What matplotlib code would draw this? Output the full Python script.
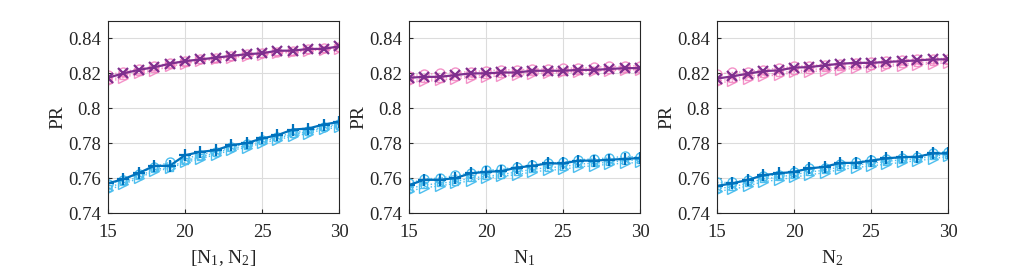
import matplotlib.pyplot as plt

plt.rcParams['font.family'] = ['Liberation Serif', 'DejaVu Serif']
plt.rcParams['mathtext.fontset'] = 'custom'
plt.rcParams['mathtext.rm'] = 'Liberation Serif'
plt.rcParams['mathtext.it'] = 'Liberation Serif:italic'

x = list(range(15, 31))

# panel 1: [N1, N2]
p1_purple = [0.8175, 0.820, 0.822, 0.8235, 0.8255, 0.827, 0.828, 0.829, 0.830, 0.831, 0.8315, 0.833, 0.833, 0.834, 0.834, 0.8355]
p1_pink_o = [0.819, 0.821, 0.8225, 0.824, 0.826, 0.827, 0.828, 0.829, 0.830, 0.831, 0.8315, 0.8325, 0.833, 0.834, 0.8345, 0.835]
p1_pink_t = [0.815, 0.8175, 0.820, 0.8215, 0.824, 0.8255, 0.827, 0.828, 0.829, 0.830, 0.8305, 0.8315, 0.832, 0.833, 0.8335, 0.834]
p1_pink_s = [0.816, 0.8185, 0.821, 0.8225, 0.825, 0.826, 0.8275, 0.8285, 0.8295, 0.8305, 0.831, 0.832, 0.8325, 0.8335, 0.834, 0.8345]
p1_blue = [0.757, 0.7594, 0.7629, 0.767, 0.767, 0.7731, 0.775, 0.776, 0.7789, 0.780, 0.7827, 0.7846, 0.7878, 0.7884, 0.7907, 0.7922]
p1_lblue_o = [0.7565, 0.759, 0.7625, 0.7665, 0.769, 0.771, 0.7735, 0.775, 0.778, 0.7795, 0.782, 0.7835, 0.786, 0.787, 0.7895, 0.791]
p1_lblue_t = [0.753, 0.7565, 0.760, 0.764, 0.7655, 0.769, 0.771, 0.7735, 0.776, 0.7775, 0.780, 0.782, 0.784, 0.7855, 0.788, 0.789]
p1_lblue_s = [0.7545, 0.7575, 0.761, 0.765, 0.766, 0.770, 0.772, 0.7745, 0.777, 0.7785, 0.781, 0.783, 0.785, 0.7865, 0.789, 0.790]

# panel 2: N1
p2_purple = [0.8175, 0.818, 0.818, 0.819, 0.820, 0.820, 0.8205, 0.8205, 0.8215, 0.8215, 0.8215, 0.822, 0.822, 0.8225, 0.823, 0.823]
p2_pink_o = [0.8185, 0.8195, 0.820, 0.8205, 0.821, 0.8215, 0.822, 0.822, 0.8225, 0.8225, 0.823, 0.823, 0.8235, 0.824, 0.824, 0.8245]
p2_pink_t = [0.815, 0.8155, 0.816, 0.817, 0.8175, 0.818, 0.8185, 0.819, 0.8195, 0.820, 0.8205, 0.821, 0.8215, 0.8215, 0.822, 0.822]
p2_pink_s = [0.816, 0.8165, 0.817, 0.818, 0.8185, 0.819, 0.8195, 0.820, 0.8205, 0.821, 0.821, 0.8215, 0.822, 0.822, 0.8225, 0.8225]
p2_blue = [0.756, 0.759, 0.759, 0.760, 0.7627, 0.7636, 0.764, 0.766, 0.767, 0.7684, 0.7684, 0.770, 0.770, 0.7705, 0.771, 0.7715]
p2_lblue_o = [0.757, 0.7595, 0.760, 0.7615, 0.763, 0.7645, 0.765, 0.7665, 0.7675, 0.7685, 0.769, 0.7705, 0.771, 0.7715, 0.7725, 0.772]
p2_lblue_t = [0.7525, 0.7545, 0.7555, 0.757, 0.7585, 0.760, 0.761, 0.762, 0.7635, 0.7645, 0.765, 0.7665, 0.767, 0.768, 0.7685, 0.769]
p2_lblue_s = [0.754, 0.756, 0.757, 0.758, 0.760, 0.761, 0.762, 0.7635, 0.765, 0.766, 0.7665, 0.768, 0.7685, 0.769, 0.770, 0.7705]

# panel 3: N2
p3_purple = [0.817, 0.8183, 0.8198, 0.8213, 0.8217, 0.8233, 0.8236, 0.8246, 0.8255, 0.826, 0.826, 0.8265, 0.827, 0.8274, 0.828, 0.828]
p3_pink_o = [0.8195, 0.8205, 0.821, 0.822, 0.823, 0.824, 0.8245, 0.825, 0.8255, 0.826, 0.8265, 0.827, 0.8275, 0.828, 0.8285, 0.8285]
p3_pink_t = [0.8145, 0.8155, 0.817, 0.8185, 0.819, 0.8205, 0.821, 0.8215, 0.822, 0.823, 0.8235, 0.824, 0.8245, 0.825, 0.8255, 0.826]
p3_pink_s = [0.8155, 0.817, 0.818, 0.8195, 0.820, 0.8215, 0.822, 0.823, 0.8235, 0.824, 0.8245, 0.825, 0.8255, 0.826, 0.8265, 0.827]
p3_blue = [0.7555, 0.757, 0.7589, 0.7617, 0.7627, 0.7636, 0.7655, 0.7665, 0.7687, 0.7687, 0.770, 0.7713, 0.772, 0.7722, 0.7741, 0.7741]
p3_lblue_o = [0.7575, 0.7575, 0.759, 0.761, 0.762, 0.7635, 0.766, 0.766, 0.768, 0.769, 0.7705, 0.771, 0.7715, 0.772, 0.7745, 0.775]
p3_lblue_t = [0.7525, 0.7535, 0.7555, 0.758, 0.759, 0.7605, 0.762, 0.763, 0.765, 0.766, 0.767, 0.768, 0.769, 0.770, 0.771, 0.7725]
p3_lblue_s = [0.754, 0.755, 0.757, 0.7595, 0.7605, 0.762, 0.7635, 0.7645, 0.7665, 0.7675, 0.7685, 0.7695, 0.7705, 0.771, 0.7725, 0.7735]

panels = [
    ([p1_purple, p1_pink_o, p1_pink_t, p1_pink_s, p1_blue, p1_lblue_o, p1_lblue_t, p1_lblue_s], "[N$_1$, N$_2$]"),
    ([p2_purple, p2_pink_o, p2_pink_t, p2_pink_s, p2_blue, p2_lblue_o, p2_lblue_t, p2_lblue_s], "N$_1$"),
    ([p3_purple, p3_pink_o, p3_pink_t, p3_pink_s, p3_blue, p3_lblue_o, p3_lblue_t, p3_lblue_s], "N$_2$"),
]

yticks = [0.74, 0.76, 0.78, 0.8, 0.82, 0.84]
ytick_labels = ["0.74", "0.76", "0.78", "0.8", "0.82", "0.84"]

purple = "#7E2F8E"
pink = "#F27FBF"
blue = "#0072BD"
lblue = "#4DBEEE"

W, H = 1017, 271
fig = plt.figure(figsize=(W / 100, H / 100), dpi=100)
lefts = [108, 409, 717]
for (series, xlabel), left in zip(panels, lefts):
    ax = fig.add_axes([left / W, 58 / H, 231 / W, 192 / H])
    pu, po, pt, ps, bl, bo, bt, bs = series
    # dotted comparison curves
    ax.plot(x, po, ":", color=pink, marker="o", mfc="none", ms=6.5, lw=1, alpha=0.85)
    ax.plot(x, pt, ":", color=pink, marker=">", mfc="none", ms=6.5, lw=1, alpha=0.85)
    ax.plot(x, ps, ":", color=pink, marker="s", mfc="none", ms=5, lw=1, alpha=0.85)
    ax.plot(x, bo, ":", color=lblue, marker="o", mfc="none", ms=6.5, lw=1)
    ax.plot(x, bt, ":", color=lblue, marker=">", mfc="none", ms=6.5, lw=1)
    ax.plot(x, bs, ":", color=lblue, marker="s", mfc="none", ms=5, lw=1)
    # main curves
    ax.plot(x, pu, "-", color=purple, marker="x", ms=6.5, mew=1.6, lw=1.6)
    ax.plot(x, bl, "-", color=blue, marker="+", ms=9, mew=1.6, lw=1.6)

    ax.set_xlim(15, 30)
    ax.set_ylim(0.74, 0.85)
    ax.set_xticks([15, 20, 25, 30])
    ax.set_yticks(yticks)
    ax.set_yticklabels(ytick_labels)
    ax.grid(True, color="#dcdcdc", lw=0.8)
    ax.set_axisbelow(True)
    ax.tick_params(direction="in", labelsize=13.5, colors="#262626", length=3)
    ax.tick_params(axis="x", pad=8)
    ax.tick_params(axis="y", pad=5)
    for sp in ax.spines.values():
        sp.set_color("#262626")
        sp.set_linewidth(0.8)
    ax.set_ylabel("PR", fontsize=14, color="#262626", labelpad=1)
    ax.set_xlabel(xlabel, fontsize=14, color="#262626", labelpad=5)

fig.savefig("out.png", dpi=100)
